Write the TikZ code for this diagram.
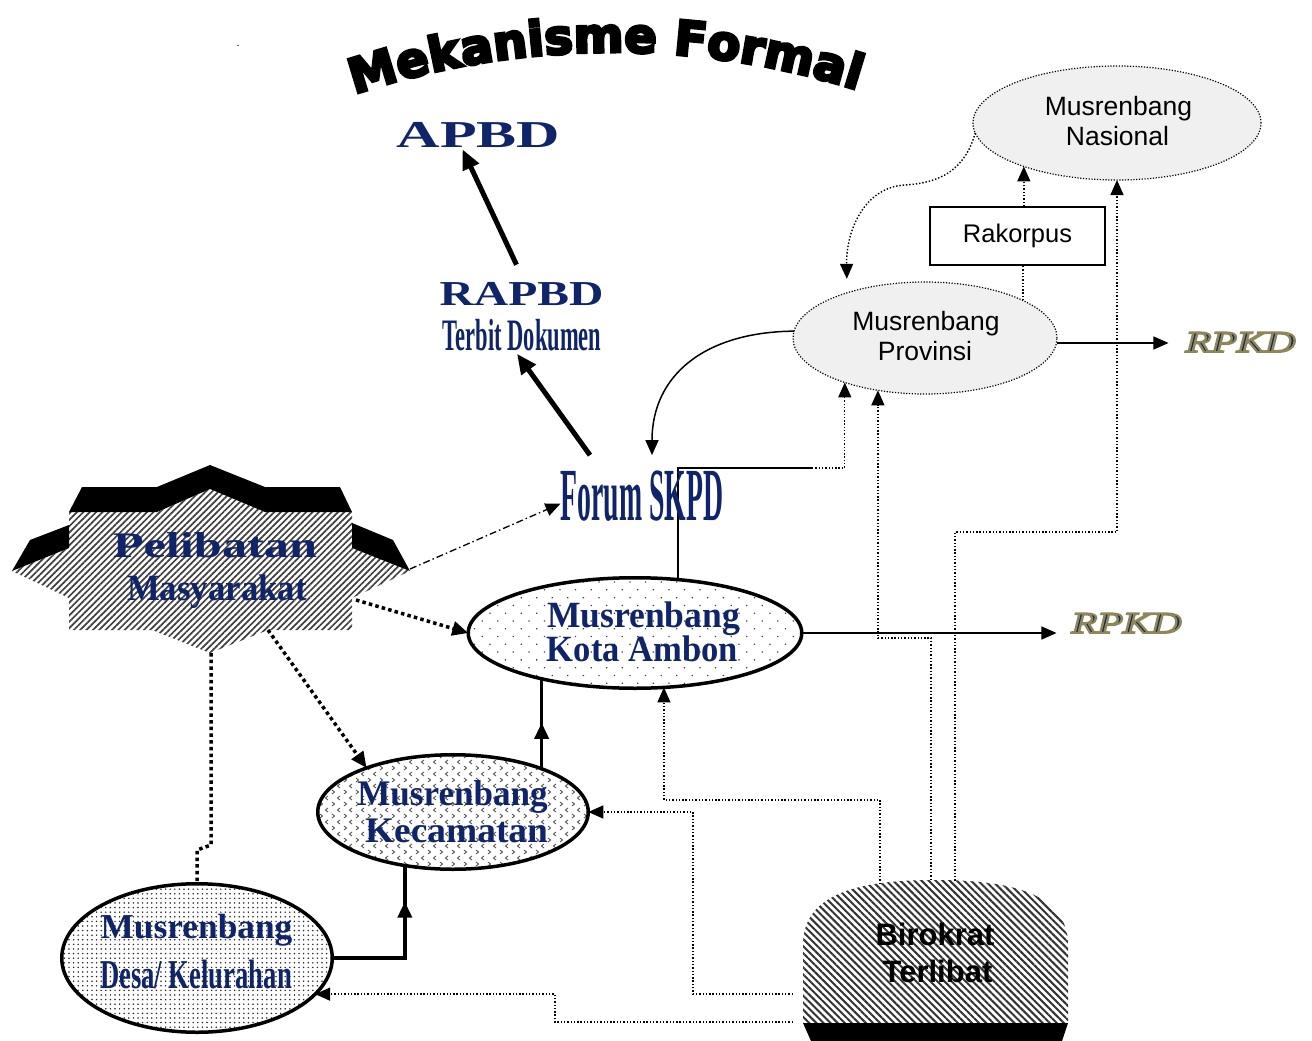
\documentclass[tikz,border=0pt]{standalone}
\usepackage{fontspec}
\usepackage{graphicx}
\setmainfont{Liberation Serif}
\newfontfamily\arialf{Liberation Sans}
\newfontface\titleface{DejaVu Sans Bold}[FakeBold=6]
\newfontface\rpkdface{Liberation Serif Italic}[FakeBold=6]
\usetikzlibrary{arrows.meta,shapes.geometric,patterns,patterns.meta,decorations.text,decorations.markings}
\definecolor{navy}{HTML}{10246A}
\definecolor{rpkdgold}{HTML}{8F8757}
\newcommand{\fsz}[1]{\fontsize{#1}{#1}\selectfont}
% navy letters with a khaki outline: the emboldening stroke takes the khaki stroke colour
\newcommand{\rpkdword}{\rpkdface\fsz{30}\special{pdf:literal direct 0.561 0.529 0.341 RG}\scalebox{1.4}[1]{RPKD}}
\pgfdeclarepatternformonly{chevrons}{\pgfqpoint{-1pt}{-1pt}}{\pgfqpoint{13pt}{13pt}}{\pgfqpoint{12pt}{12pt}}{%
  \pgfsetlinewidth{0.9pt}%
  \pgfpathmoveto{\pgfqpoint{4pt}{1pt}}\pgfpathlineto{\pgfqpoint{1.5pt}{3pt}}\pgfpathlineto{\pgfqpoint{4pt}{5pt}}%
  \pgfpathmoveto{\pgfqpoint{8pt}{7pt}}\pgfpathlineto{\pgfqpoint{10.5pt}{9pt}}\pgfpathlineto{\pgfqpoint{8pt}{11pt}}%
  \pgfusepath{stroke}}
\pgfdeclarelayer{shapes}
\pgfdeclarelayer{links}
\pgfsetlayers{shapes,links,main}
\begin{document}
\begin{tikzpicture}[x=1pt,y=-1pt,
  lbl/.style={inner sep=0pt, anchor=base},
  navylbl/.style={lbl, text=navy, font=\bfseries},
  sanslbl/.style={lbl, font=\arialf},
  greyell/.style={ellipse, draw, line width=1.2pt, dash pattern=on 1.2pt off 1.6pt, fill=black!6, inner sep=0pt, outer sep=0pt},
  thickell/.style={ellipse, draw, line width=3.5pt, inner sep=0pt, outer sep=0pt},
  thinlink/.style={line width=1.5pt},
  arrowtip/.style={-{Triangle[length=15pt,width=13pt]}},
  dotlink/.style={line width=1.4pt, dash pattern=on 1.4pt off 1.9pt},
  bigdotlink/.style={line width=3.5pt, dash pattern=on 3.5pt off 3.2pt},
  dashdotlink/.style={line width=1.3pt, dash pattern=on 7pt off 3pt on 1.5pt off 3pt},
  heavyarrow/.style={line width=5pt, -{Triangle[length=20pt,width=17pt]}},
  midtip/.style={postaction={decorate, decoration={markings, mark=at position #1 with {\arrow{Triangle[length=16pt,width=14pt]}}}}}
]
\useasboundingbox (0,0) rectangle (1312,1041);

% ---------- shapes ----------
\begin{pgfonlayer}{shapes}
  \node[greyell, minimum width=288pt, minimum height=114pt] (nas) at (1117,123) {};
  \node[greyell, minimum width=264pt, minimum height=112pt] (prov) at (925,338) {};
  \node[thickell, minimum width=333.5pt, minimum height=110.5pt,
        pattern={Dots[distance=11pt,angle=45,radius=0.9pt]}, pattern color=black!75] (kota) at (635,633) {};
  \node[thickell, minimum width=270.5pt, minimum height=114.5pt,
        pattern=chevrons, pattern color=black!65] (kec) at (453,812) {};
  \node[thickell, minimum width=270.5pt, minimum height=148.5pt,
        pattern={Dots[distance=4.6pt,radius=0.85pt]}, pattern color=black!85] (desa) at (197,958) {};

  % community participation star with its dark extruded rim
  \fill[pattern={Lines[angle=45,distance=4.5pt,line width=1.7pt]}, pattern color=black!75]
    (69,512) -- (157,512) -- (210,489) -- (265,512) -- (352,512) -- (352,548) -- (410,571)
    -- (352,598) -- (352,630) -- (268,630) -- (210,653) -- (152,630) -- (69,630) -- (69,598)
    -- (12,571) -- (69,548) -- cycle;
  \fill (69,512) -- (82,487) -- (157,487) -- (210,465) -- (265,487) -- (340,487) -- (352,512)
    -- (265,512) -- (210,489) -- (157,512) -- cycle;
  \fill (12,571) -- (30,540) -- (69,525) -- (69,548) -- cycle;
  \fill (410,571) -- (393,540) -- (352,523) -- (352,548) -- cycle;

  % bureaucrats dome with its dark base
  \fill[pattern={Lines[angle=-45,distance=5pt,line width=2pt]}, pattern color=black!80]
    (803,1023) -- (803,945) .. controls (803,893) and (860,880) .. (935,880)
    .. controls (1010,880) and (1068,893) .. (1068,945) -- (1068,1023) -- cycle;
  \fill (803,1023) -- (1068,1023) -- (1062,1041) -- (811,1041) -- cycle;
\end{pgfonlayer}

\coordinate (pelR) at (410,569);
\coordinate (pelRB) at (356,600);
\coordinate (pelBR) at (268,630);
\coordinate (pelB) at (211,653);
\coordinate (bt1) at (880,884);
\coordinate (bt2) at (931,880);
\coordinate (bt3) at (955,880.5);
\coordinate (bl1) at (793,994);
\coordinate (bl2) at (793,1022);
\coordinate (hj) at (812,468);

% ---------- labels ----------
\path[decorate, decoration={text along path, text align=center,
      text={|\titleface\fsz{48}|Mekanisme Formal}}]
  (269.9,128.2) arc[start angle=115, end angle=66, radius=811pt];
\node[lbl] (speck) at (238,47) {\fsz{12}.};

\node[navylbl] (apbd) at (478.5,147) {\fsz{38}\scalebox{1.58}[1]{APBD}};
\node[navylbl] (rapbd) at (521.5,305) {\fsz{35}\scalebox{1.36}[1]{RAPBD}};
\node[navylbl] (terbit) at (522,350) {\fsz{45}\scalebox{0.5}[1]{Terbit Dokumen}};
\node[navylbl] (forum) at (642,520) {\fsz{75}\scalebox{0.37}[1]{Forum SKPD}};
\node[navylbl] (pel1) at (215,557) {\fsz{36}\scalebox{1.4}[1]{Pelibatan}};
\node[navylbl] (pel2) at (217,600) {\fsz{37}\scalebox{0.94}[1]{Masyarakat}};
\node[navylbl] (kota1) at (643.5,627) {\fsz{37}\scalebox{0.96}[1]{Musrenbang}};
\node[navylbl] (kota2) at (642.5,661) {\fsz{37}\scalebox{0.935}[1]{Kota Ambon}};
\node[navylbl] (kec1) at (452.5,805) {\fsz{36}\scalebox{0.975}[1]{Musrenbang}};
\node[navylbl] (kec2) at (456.5,842) {\fsz{36}\scalebox{1.04}[1]{Kecamatan}};
\node[navylbl] (desa1) at (196.5,938) {\fsz{35}\scalebox{1.01}[1]{Musrenbang}};
\node[navylbl] (desa2) at (196,988) {\fsz{41}\scalebox{0.65}[1]{Desa/ Kelurahan}};
\node[sanslbl] (nas1) at (1118.5,115) {\fsz{26.5}Musrenbang};
\node[sanslbl] (nas2) at (1117.5,145) {\fsz{26.5}Nasional};
\node[sanslbl] (prov1) at (926,330) {\fsz{26.5}Musrenbang};
\node[sanslbl] (prov2) at (925,360) {\fsz{26.5}Provinsi};
\node[sanslbl, font=\arialf\bfseries] (bir1) at (935,945) {\fsz{31}Birokrat};
\node[sanslbl, font=\arialf\bfseries] (bir2) at (937.5,982) {\fsz{31}Terlibat};
\node[draw, line width=1.5pt, font=\arialf, minimum width=175pt, minimum height=58pt, inner sep=0pt]
  (rak) at (1017.5,236) {\fsz{25.5}Rakorpus};
\node[lbl, text=navy] (rpkd1) at (1240.5,352) {\rpkdword};
\node[lbl, text=navy] (rpkd2) at (1126.5,633) {\rpkdword};

\coordinate (r1in) at ([xshift=-17pt]rpkd1.west);
\coordinate (r2in) at ([xshift=-15pt]rpkd2.west);
\coordinate (pe) at ([yshift=-5pt]prov.east);

% ---------- connectors ----------
\begin{pgfonlayer}{links}
  % budget chain
  \draw[heavyarrow] ([xshift=-52pt,yshift=15pt]forum.north) -- ([xshift=-5pt,yshift=-3pt]terbit.south);
  \draw[heavyarrow] ([xshift=-5pt,yshift=17pt]rapbd.north) -- ([xshift=-16pt,yshift=-2pt]apbd.south);

  % community participation
  \draw[dashdotlink, arrowtip] (pelR) -- ([yshift=-8pt]forum.west);
  \draw[bigdotlink, -{Triangle[length=16pt,width=14pt]}] (pelRB) -- (kota.west);
  \draw[bigdotlink, -{Triangle[length=16pt,width=14pt]}] (pelBR) -- (kec.153);
  \draw[bigdotlink] (pelB) -- (pelB |- 0,845) -- (desa.north |- 0,850) -- (desa.north);

  % bottom-up musrenbang chain
  \draw[line width=3.5pt, midtip=129pt] (desa.east) -| (kec.228);
  \draw[line width=3.5pt, midtip=46pt] (kec.26) -- (kec.26 |- kota.208);
  \draw[thinlink] (kota.51) |- (hj);
  \draw[dotlink, arrowtip] (hj) -| (prov.209);
  \draw[thinlink, arrowtip] (prov.177) .. controls (705,332) and (652,375) .. ([xshift=10pt,yshift=15pt]forum.north);
  \draw[dotlink, arrowtip] (nas.184) .. controls (965,170) and (940,183) .. (905,185)
    .. controls (865,187) and (846,230) .. ([yshift=14pt]prov.150);
  \draw[dotlink] (prov.21) -- (prov.21 |- rak.south);
  \draw[dotlink, arrowtip] (nas.205 |- rak.north) -- (nas.205);
  \draw[thinlink, arrowtip] (pe) -- (pe -| r1in);
  \draw[thinlink, arrowtip] (kota.east) -- (kota.east -| r2in);

  % bureaucrats taking part
  \draw[dotlink, arrowtip] (bt3) -- (bt3 |- 0,532) -| (nas.south);
  \draw[dotlink, arrowtip] (bt2) -- (bt2 |- 0,638) -| (prov.228);
  \draw[dotlink, arrowtip] (bt1) -- (bt1 |- 0,800) -| (kota.298);
  \draw[dotlink, arrowtip] (bl1) -- (bl1 -| 693,0) |- (kec.east);
  \draw[dotlink, arrowtip] (bl2) -- (bl2 -| 555,0) |- (desa.343);
\end{pgfonlayer}
\end{tikzpicture}
\end{document}
